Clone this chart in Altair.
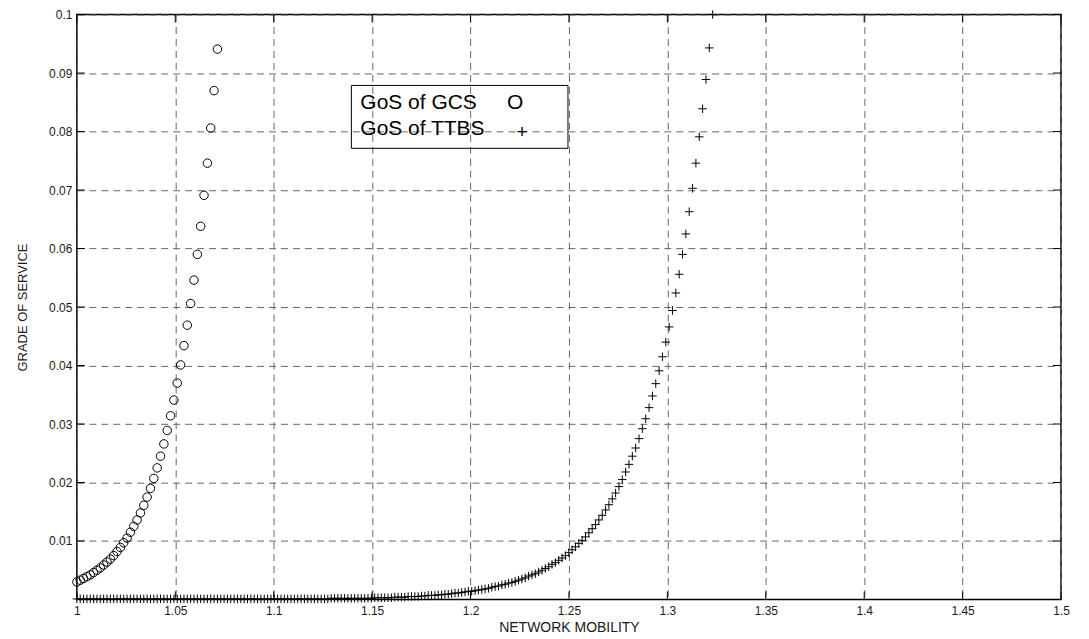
import altair as alt
import pandas as pd

# ---- data ----
gcs_x = [1.0000, 1.0017, 1.0034, 1.0051, 1.0068, 1.0085, 1.0102, 1.0119, 1.0136, 1.0153,
         1.0170, 1.0187, 1.0204, 1.0221, 1.0238, 1.0255, 1.0272, 1.0289, 1.0306, 1.0323,
         1.0340, 1.0357, 1.0374, 1.0391, 1.0408, 1.0425, 1.0442, 1.0459, 1.0476, 1.0493,
         1.0510, 1.0527, 1.0544, 1.0561, 1.0578, 1.0595, 1.0612, 1.0629, 1.0646, 1.0663,
         1.0680, 1.0697, 1.0714]
gcs_y = [0.0030, 0.0033, 0.0036, 0.0039, 0.0042, 0.0046, 0.0050, 0.0054, 0.0059, 0.0064,
         0.0069, 0.0075, 0.0082, 0.0089, 0.0097, 0.0105, 0.0115, 0.0125, 0.0136, 0.0148,
         0.0161, 0.0175, 0.0190, 0.0207, 0.0225, 0.0245, 0.0266, 0.0289, 0.0314, 0.0341,
         0.0370, 0.0401, 0.0434, 0.0469, 0.0506, 0.0546, 0.0590, 0.0638, 0.0691, 0.0746,
         0.0806, 0.0870, 0.0941]

ttbs_x = [1.0000, 1.0017, 1.0034, 1.0051, 1.0068, 1.0085, 1.0102, 1.0119, 1.0136, 1.0153,
          1.0170, 1.0187, 1.0204, 1.0221, 1.0238, 1.0255, 1.0272, 1.0289, 1.0306, 1.0323,
          1.0340, 1.0357, 1.0374, 1.0391, 1.0408, 1.0425, 1.0442, 1.0459, 1.0476, 1.0493,
          1.0510, 1.0527, 1.0544, 1.0561, 1.0578, 1.0595, 1.0612, 1.0629, 1.0646, 1.0663,
          1.0680, 1.0697, 1.0714, 1.0731, 1.0748, 1.0765, 1.0782, 1.0799, 1.0816, 1.0833,
          1.0850, 1.0867, 1.0884, 1.0901, 1.0918, 1.0935, 1.0952, 1.0969, 1.0986, 1.1003,
          1.1020, 1.1037, 1.1054, 1.1071, 1.1088, 1.1105, 1.1122, 1.1139, 1.1156, 1.1173,
          1.1190, 1.1207, 1.1224, 1.1241, 1.1258, 1.1275, 1.1292, 1.1309, 1.1326, 1.1343,
          1.1360, 1.1377, 1.1394, 1.1411, 1.1428, 1.1445, 1.1462, 1.1479, 1.1496, 1.1513,
          1.1530, 1.1547, 1.1564, 1.1581, 1.1598, 1.1615, 1.1632, 1.1649, 1.1666, 1.1683,
          1.1700, 1.1717, 1.1734, 1.1751, 1.1768, 1.1785, 1.1802, 1.1819, 1.1836, 1.1853,
          1.1870, 1.1887, 1.1904, 1.1921, 1.1938, 1.1955, 1.1972, 1.1989, 1.2006, 1.2023,
          1.2040, 1.2057, 1.2074, 1.2091, 1.2108, 1.2125, 1.2142, 1.2159, 1.2176, 1.2193,
          1.2210, 1.2227, 1.2244, 1.2261, 1.2278, 1.2295, 1.2312, 1.2329, 1.2346, 1.2363,
          1.2380, 1.2397, 1.2414, 1.2431, 1.2448, 1.2465, 1.2482, 1.2499, 1.2516, 1.2533,
          1.2550, 1.2567, 1.2584, 1.2601, 1.2618, 1.2635, 1.2652, 1.2669, 1.2686, 1.2703,
          1.2720, 1.2737, 1.2754, 1.2771, 1.2788, 1.2805, 1.2822, 1.2839, 1.2856, 1.2873,
          1.2890, 1.2907, 1.2924, 1.2941, 1.2958, 1.2975, 1.2992, 1.3009, 1.3026, 1.3043,
          1.3060, 1.3077, 1.3094, 1.3111, 1.3128, 1.3145, 1.3162, 1.3179, 1.3196, 1.3213,
          1.3230]
ttbs_y = [0.0001] * 70 + [
          0.0001, 0.0001, 0.0001, 0.0001, 0.0001, 0.0001, 0.0002, 0.0002, 0.0002, 0.0002,
          0.0002, 0.0002, 0.0002, 0.0002, 0.0002, 0.0002, 0.0002, 0.0002, 0.0002, 0.0003,
          0.0003, 0.0003, 0.0003, 0.0003, 0.0003, 0.0004, 0.0004, 0.0004, 0.0004, 0.0005,
          0.0005, 0.0005, 0.0005, 0.0006, 0.0006, 0.0007, 0.0007, 0.0007, 0.0008, 0.0008,
          0.0009, 0.0009, 0.0010, 0.0011, 0.0011, 0.0012, 0.0013, 0.0014, 0.0014, 0.0015,
          0.0016, 0.0017, 0.0018, 0.0019, 0.0021, 0.0022, 0.0023, 0.0025, 0.0026, 0.0028,
          0.0029, 0.0031, 0.0033, 0.0035, 0.0037, 0.0040, 0.0042, 0.0044, 0.0047, 0.0050,
          0.0053, 0.0056, 0.0060, 0.0063, 0.0067, 0.0071, 0.0075, 0.0080, 0.0085, 0.0090,
          0.0096, 0.0101, 0.0107, 0.0114, 0.0121, 0.0128, 0.0136, 0.0144, 0.0153, 0.0162,
          0.0172, 0.0182, 0.0193, 0.0205, 0.0218, 0.0231, 0.0245, 0.0259, 0.0275, 0.0292,
          0.0309, 0.0328, 0.0348, 0.0369, 0.0391, 0.0415, 0.0440, 0.0466, 0.0494, 0.0524,
          0.0556, 0.0590, 0.0625, 0.0663, 0.0703, 0.0746, 0.0791, 0.0839, 0.0889, 0.0943,
          0.1000]

x_ticks = [1.0, 1.05, 1.1, 1.15, 1.2, 1.25, 1.3, 1.35, 1.4, 1.45, 1.5]
y_ticks = [0.01, 0.02, 0.03, 0.04, 0.05, 0.06, 0.07, 0.08, 0.09, 0.1]

legend_labels = ["GoS of GCS", "GoS of TTBS"]
legend_symbols = ["O", "+"]

# ---- chart ----
W, H = 986, 586
FONT = "Liberation Sans"

gcs = pd.DataFrame({"x": gcs_x, "y": gcs_y})
ttbs = pd.DataFrame({"x": ttbs_x, "y": ttbs_y})
xt = pd.DataFrame({"x": x_ticks})
yt = pd.DataFrame({"y": y_ticks})
one = pd.DataFrame({"a": [0]})

xscale = alt.Scale(domain=[1.0, 1.5], nice=False, zero=False)
yscale = alt.Scale(domain=[0.0, 0.1], nice=False, zero=False)

xaxis = alt.Axis(values=x_ticks, format="~g", title="NETWORK MOBILITY",
                 grid=True, gridDash=[7, 5], gridColor="#666666", gridOpacity=1, gridWidth=1,
                 ticks=False, domain=False, labelPadding=6, labelFlush=False, labelOverlap=False,
                 labelFont=FONT, labelFontSize=12, labelColor="#1a1a1a",
                 titleFont=FONT, titleFontSize=14, titleFontWeight="normal",
                 titleColor="#1a1a1a", titlePadding=4)
yaxis = alt.Axis(values=y_ticks, format="~g", title="GRADE OF SERVICE",
                 grid=True, gridDash=[7, 5], gridColor="#666666", gridOpacity=1, gridWidth=1,
                 ticks=False, domain=False, labelPadding=5, labelOverlap=False,
                 labelFont=FONT, labelFontSize=12, labelColor="#1a1a1a",
                 titleFont=FONT, titleFontSize=13, titleFontWeight="normal",
                 titleColor="#1a1a1a", titlePadding=19)

X = alt.X("x:Q", scale=xscale, axis=xaxis)
Y = alt.Y("y:Q", scale=yscale, axis=yaxis)

circles = alt.Chart(gcs).mark_point(shape="circle", size=72, filled=False,
                                    stroke="black", strokeWidth=1, opacity=1).encode(x=X, y=Y)

PLUS = "M-1,0L1,0M0,-1L0,1"
pluses = alt.Chart(ttbs).mark_point(shape=PLUS, size=72, filled=False,
                                    stroke="black", strokeWidth=1, opacity=1).encode(x=X, y=Y)

TL = 8
xtick_bottom = alt.Chart(xt).mark_rule(color="black", strokeWidth=1).encode(
    x=X, y=alt.value(H), y2=alt.value(H - TL))
xtick_top = alt.Chart(xt).mark_rule(color="black", strokeWidth=1).encode(
    x=X, y=alt.value(0), y2=alt.value(TL))
ytick_left = alt.Chart(yt).mark_rule(color="black", strokeWidth=1).encode(
    y=Y, x=alt.value(0), x2=alt.value(TL))
ytick_right = alt.Chart(yt).mark_rule(color="black", strokeWidth=1).encode(
    y=Y, x=alt.value(W), x2=alt.value(W - TL))

legend_box = alt.Chart(one).mark_rect(fill="white", fillOpacity=0, stroke="black",
                                      strokeWidth=1).encode(
    x=alt.value(275), x2=alt.value(492), y=alt.value(71), y2=alt.value(134))

leg_font = 21
leg1 = alt.Chart(one).mark_text(text=legend_labels[0], align="left", baseline="alphabetic",
                                font=FONT, fontSize=leg_font, color="black").encode(
    x=alt.value(284), y=alt.value(95))
leg2 = alt.Chart(one).mark_text(text=legend_labels[1], align="left", baseline="alphabetic",
                                font=FONT, fontSize=leg_font, color="black").encode(
    x=alt.value(284), y=alt.value(121))
sym1 = alt.Chart(one).mark_text(text=legend_symbols[0], align="left", baseline="alphabetic",
                                font=FONT, fontSize=leg_font, color="black").encode(
    x=alt.value(431), y=alt.value(95))
sym2 = alt.Chart(one).mark_text(text=legend_symbols[1], align="center", baseline="middle",
                                font=FONT, fontSize=19, color="black").encode(
    x=alt.value(446), y=alt.value(118))

chart = alt.layer(
    legend_box, circles, pluses, xtick_bottom, xtick_top, ytick_left, ytick_right,
    leg1, leg2, sym1, sym2
).properties(
    width=W, height=H,
    autosize=alt.AutoSizeParams(type="none"),
    padding={"left": 69, "top": 6, "right": 20, "bottom": 37},
    background="white",
).configure_view(stroke="black", strokeWidth=1.5)

chart.save("out.html", embed_options={"renderer": "svg", "actions": False})
